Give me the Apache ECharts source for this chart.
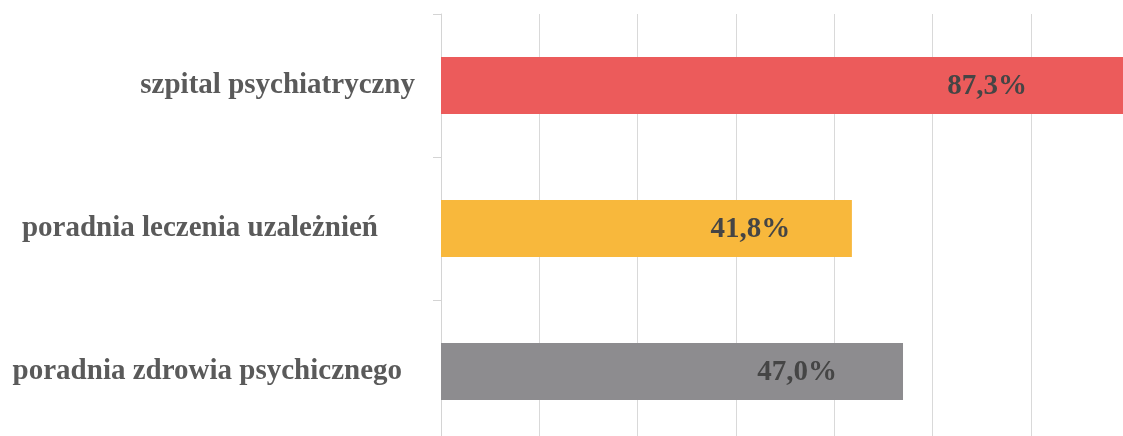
<!DOCTYPE html>
<html>
<head>
<meta charset="utf-8">
<script src="https://cdn.jsdelivr.net/npm/echarts@6/dist/echarts.min.js"></script>
<style>
html,body{margin:0;padding:0;background:#fff;overflow:hidden;width:1123px;height:436px;}
#c{width:1424px;height:443px;}
</style>
</head>
<body>
<div id="c"></div>
<script>
const categories = ['szpital psychiatryczny', 'poradnia leczenia uzależnień', 'poradnia zdrowia psychicznego'];
const values = [87.3, 41.8, 47.0];
const barColors = ['#EC5B5B', '#F8B83C', '#8D8C8F'];

const labelPad = [0, 37, 13];
const labelShift = [117, 104, 125];

const chart = echarts.init(document.getElementById('c'));
chart.setOption({
  animation: false,
  backgroundColor: '#ffffff',
  grid: { left: 441, top: 14, right: 0, bottom: 0, containLabel: false },
  xAxis: {
    type: 'value', min: 0, max: 100, interval: 10,
    axisLabel: { show: false }, axisLine: { show: false }, axisTick: { show: false },
    splitLine: { show: true, lineStyle: { color: '#d9d9d9', width: 1 } }
  },
  yAxis: {
    type: 'category', inverse: true,
    data: categories.map((c, i) => ({ value: c, textStyle: { padding: [3, labelPad[i], 0, 0] } })),
    axisLine: { show: true, lineStyle: { color: '#d4d4d4', width: 1 } },
    axisTick: { show: true, length: 8, lineStyle: { color: '#d4d4d4' } },
    axisLabel: {
      margin: 26, color: '#5a5a5a', fontFamily: 'Liberation Serif', fontWeight: 'bold', fontSize: 29
    }
  },
  series: [{
    type: 'bar', barWidth: 57,
    data: values.map((v, i) => ({
      value: v,
      itemStyle: { color: barColors[i] },
      label: { offset: [labelShift[i], 1] }
    })),
    label: {
      show: true, position: 'inside',
      formatter: p => p.value.toFixed(1).replace('.', ',') + '%',
      color: '#454545', fontFamily: 'Liberation Serif', fontWeight: 'bold', fontSize: 29
    }
  }]
});
</script>
</body>
</html>
